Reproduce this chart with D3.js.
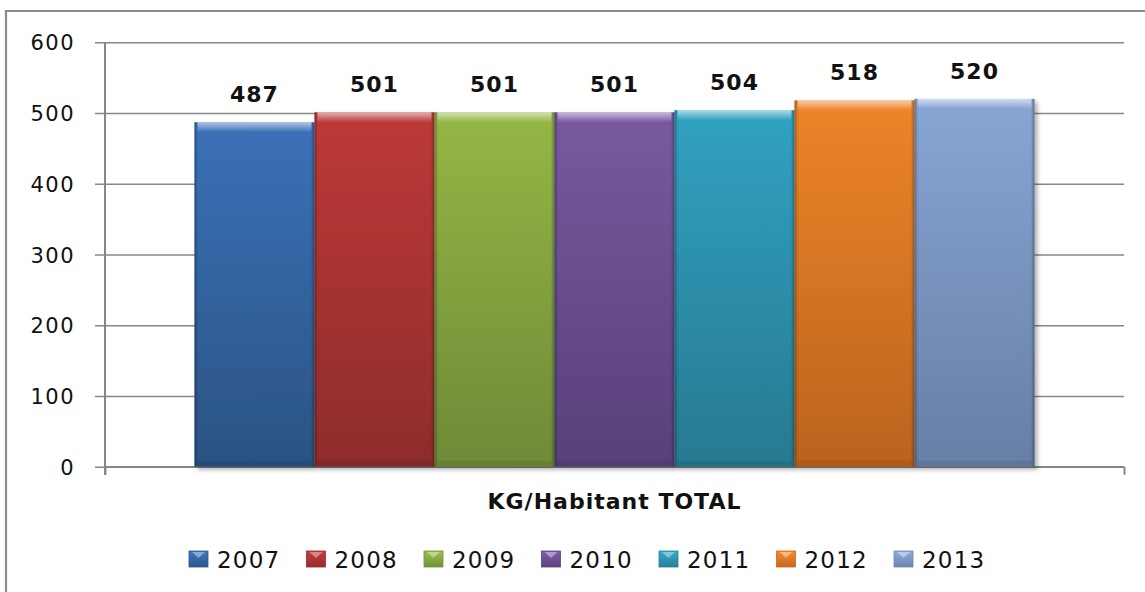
<!DOCTYPE html>
<html><head><meta charset="utf-8">
<script src="https://cdn.jsdelivr.net/npm/d3@7/dist/d3.min.js"></script>
<style>
html,body{margin:0;padding:0;background:#fff;overflow:hidden;}
svg{display:block;}
</style></head>
<body>
<svg id="chart" width="1145" height="592"></svg>
<script>
const categories = ["KG/Habitant TOTAL"];
const years = ["2007","2008","2009","2010","2011","2012","2013"];
const values = [487,501,501,501,504,518,520];
const yTicks = [0,100,200,300,400,500,600];
const colorsTop = ["#3D77C2","#C73C3B","#9DC048","#7F5DA8","#32AACB","#F98B2B","#8FAEDF"];
const colorsBottom = ["#2C5789","#952E2D","#74913A","#5C4480","#2A7F98","#C4681F","#6C85AE"];

(function(){
const svg = d3.select("#chart");
const defs = svg.append("defs");
const FONT = "DejaVu Sans, Verdana, sans-serif";

// outer frame
svg.append("path").attr("d","M6,600 L6,11 L1150,11")
  .attr("fill","none").attr("stroke","#8a8a8a").attr("stroke-width",2.2);

const pLeft = 105, pRight = 1124, pTop = 42.3, pBottom = 466.7;
const y = d3.scaleLinear().domain([0,600]).range([pBottom, pTop]);
const x0 = d3.scaleBand().domain(categories).range([pLeft,pRight]).paddingInner(0).paddingOuter(0.1065);
const x1 = d3.scaleBand().domain(years).range([0, x0.bandwidth()]).padding(0);

// gradients
years.forEach((yr,i)=>{
  const g = defs.append("linearGradient").attr("id","g"+i).attr("x1",0).attr("y1",0).attr("x2",0).attr("y2",1);
  g.append("stop").attr("offset","0%").attr("stop-color",colorsTop[i]);
  g.append("stop").attr("offset","100%").attr("stop-color",colorsBottom[i]);
});
const side = defs.append("linearGradient").attr("id","side").attr("x1",0).attr("y1",0).attr("x2",1).attr("y2",0);
side.append("stop").attr("offset","0%").attr("stop-color","#000").attr("stop-opacity",0.35);
side.append("stop").attr("offset","3%").attr("stop-color","#000").attr("stop-opacity",0.05);
side.append("stop").attr("offset","97%").attr("stop-color","#000").attr("stop-opacity",0.05);
side.append("stop").attr("offset","100%").attr("stop-color","#000").attr("stop-opacity",0.35);
const topHi = defs.append("linearGradient").attr("id","tophi").attr("x1",0).attr("y1",0).attr("x2",0).attr("y2",1);
topHi.append("stop").attr("offset","0%").attr("stop-color","#fff").attr("stop-opacity",0.6);
topHi.append("stop").attr("offset","100%").attr("stop-color","#fff").attr("stop-opacity",0.0);
const f = defs.append("filter").attr("id","shadow").attr("x","-10%").attr("y","-10%").attr("width","130%").attr("height","130%");
f.append("feDropShadow").attr("dx",3).attr("dy",3).attr("stdDeviation",2).attr("flood-color","#000").attr("flood-opacity",0.3);

// gridlines + y axis
const yAxis = d3.axisLeft(y).tickValues(yTicks).tickSize(-(pRight-pLeft)).tickPadding(30).tickFormat(d3.format("d"));
const ga = svg.append("g").attr("transform",`translate(${pLeft},0)`).call(yAxis);
ga.select(".domain").remove();
ga.selectAll(".tick line").attr("stroke","#868686").attr("stroke-width",1.6).attr("x1",-10);
ga.selectAll(".tick text").attr("font-family",FONT).attr("font-size",21)
  .attr("letter-spacing","1.5px").attr("fill","#111").attr("dy","0.36em");
// y axis line
svg.append("line").attr("x1",pLeft).attr("x2",pLeft).attr("y1",pTop).attr("y2",pBottom+8)
  .attr("stroke","#868686").attr("stroke-width",2);
// x axis
const xAxis = d3.axisBottom(d3.scaleLinear().domain([0,1]).range([pLeft,pRight])).tickValues([0,1]).tickSize(8).tickFormat("");
const gx = svg.append("g").attr("transform",`translate(0,${pBottom})`).call(xAxis);
gx.select(".domain").attr("stroke","#868686").attr("stroke-width",1.6).attr("d",`M${pLeft},0H${pRight}`);
gx.selectAll(".tick line").attr("stroke","#868686").attr("stroke-width",2);

// bars
const gBars = svg.append("g").attr("transform",`translate(${x0(categories[0])},0)`);
const bars = gBars.selectAll("g.bar").data(values).join("g").attr("class","bar");
bars.append("rect").attr("x",(d,i)=>x1(years[i])).attr("y",d=>y(d)).attr("width",x1.bandwidth())
  .attr("height",d=>y(0)-y(d)).attr("fill",(d,i)=>`url(#g${i})`).attr("filter","url(#shadow)");
bars.append("rect").attr("x",(d,i)=>x1(years[i])).attr("y",d=>y(d)).attr("width",x1.bandwidth())
  .attr("height",d=>y(0)-y(d)).attr("fill","url(#side)");
bars.append("rect").attr("x",(d,i)=>x1(years[i])+3).attr("y",d=>y(d)).attr("width",x1.bandwidth()-6)
  .attr("height",10).attr("fill","url(#tophi)");
bars.append("rect").attr("x",(d,i)=>x1(years[i])+3).attr("y",d=>y(0)-6).attr("width",x1.bandwidth()-6)
  .attr("height",6).attr("fill","#000").attr("opacity",0.08);
bars.append("text").attr("x",(d,i)=>x1(years[i])+x1.bandwidth()/2).attr("y",d=>y(d)-20)
  .attr("text-anchor","middle").attr("font-family",FONT).attr("font-weight","bold")
  .attr("font-size",22).attr("letter-spacing","1px").attr("fill","#111").text(d=>d);

// category label
svg.append("text").attr("x",x0(categories[0])+x0.bandwidth()/2).attr("y",509)
  .attr("text-anchor","middle").attr("font-family",FONT).attr("font-weight","bold")
  .attr("font-size",22).attr("letter-spacing","1px").attr("fill","#111").text(categories[0]);

// legend
const legX = d3.scaleBand().domain(years).range([189, 189+117.5*7]);
const leg = svg.append("g").selectAll("g").data(years).join("g")
  .attr("transform",d=>`translate(${legX(d)},551)`);
leg.append("rect").attr("width",19).attr("height",16).attr("fill",(d,i)=>`url(#g${i})`)
  .attr("stroke",(d,i)=>colorsBottom[i]).attr("stroke-width",0.8);
leg.append("path").attr("d","M3,1 L16,1 L9.5,7 Z").attr("fill","#fff").attr("opacity",0.4);
leg.append("text").attr("x",28).attr("y",16.5).attr("font-family",FONT)
  .attr("font-size",23).attr("letter-spacing","1.2px").attr("fill","#111").text(d=>d);
})();
</script>
</body></html>
